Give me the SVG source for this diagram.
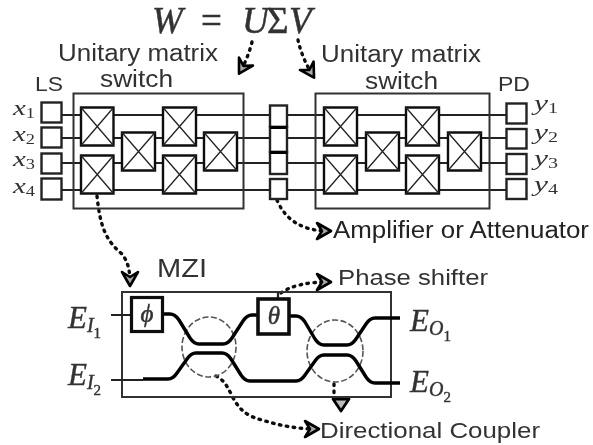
<svg xmlns="http://www.w3.org/2000/svg" width="593" height="445" viewBox="0 0 593 445">
<style>
.b{fill:#fff;stroke:#222;stroke-width:2.4}
.o{fill:none;stroke:#333;stroke-width:2}
.x{fill:#fff;stroke:#111;stroke-width:2.4}
.c{fill:none;stroke:#222;stroke-width:1.3}
.w{fill:none;stroke:#222;stroke-width:2.2}
.g{fill:none;stroke:#000;stroke-width:3.4;stroke-linejoin:round}
.d{fill:none;stroke:#111;stroke-width:3.4;stroke-dasharray:1.5 5.5;stroke-linecap:round}
.dc{fill:none;stroke:#555;stroke-width:1.6;stroke-dasharray:6 2.5}
.s{font-family:"Liberation Sans",Arial,sans-serif;fill:#333}
.m{font-family:"Liberation Serif","Times New Roman",serif;font-style:italic;fill:#333}
</style>
<defs>
<filter id="blur" x="-5%" y="-5%" width="110%" height="110%"><feGaussianBlur stdDeviation="0.7"/></filter>
<marker id="a" markerWidth="24" markerHeight="24" refX="14" refY="10" orient="auto" markerUnits="userSpaceOnUse"><path d="M2 2 L16 10 L2 18 L7 10 Z" fill="#aaa" stroke="#000" stroke-width="2.600" stroke-linejoin="round"/></marker>
</defs>
<g filter="url(#blur)">
<g id="connectors">
<path class="w" d="M62 115H506M62 138H506M62 163H506M62 190H506"/>
<path class="d" d="M252 42Q248 58 240 72" marker-end="url(#a)"/>
<path class="d" d="M298 40Q302 58 313 76" marker-end="url(#a)"/>
<path class="d" d="M97 196C100 225 105 240 122 254C128 262 130 270 130 284" marker-end="url(#a)"/>
<path class="d" d="M277 200Q290 231 329 231" marker-end="url(#a)"/>
<path class="d" d="M281 293Q296 282 329 282" marker-end="url(#a)"/>
<path class="d" d="M216 376C235 385 228 412 262 420Q290 429 317 429" marker-end="url(#a)"/>
<path class="d" d="M334 384V396"/>
<path d="M333 399H349L341 411Z" fill="#bbb" stroke="#000" stroke-width="2.800" stroke-linejoin="round"/>
</g>
<g id="left-switch">
<rect class="o" x="73.500" y="93.500" width="170" height="115"/>
<g id="ls-boxes">
<rect class="b" x="41.500" y="102.500" width="20" height="20"/>
<rect class="b" x="41.500" y="127.500" width="20" height="20"/>
<rect class="b" x="41.500" y="153.500" width="20" height="20"/>
<rect class="b" x="41.500" y="178.500" width="20" height="21"/>
</g>
<g id="left-crossbars">
<path class="x" d="M81 107.500h32.500v38h-32.500z"/><path class="c" d="M81 107.500l32.500 38m0-38l-32.500 38"/>
<path class="x" d="M122 132.500h33v38h-33z"/><path class="c" d="M122 132.500l33 38m0-38l-33 38"/>
<path class="x" d="M163 107.500h33v38h-33z"/><path class="c" d="M163 107.500l33 38m0-38l-33 38"/>
<path class="x" d="M204 132.500h33v38h-33z"/><path class="c" d="M204 132.500l33 38m0-38l-33 38"/>
<path class="x" d="M81 155.500h32.500v38h-32.500z"/><path class="c" d="M81 155.500l32.500 38m0-38l-32.500 38"/>
<path class="x" d="M163 155.500h33v38h-33z"/><path class="c" d="M163 155.500l33 38m0-38l-33 38"/>
</g>
</g>
<g id="middle-column">
<rect class="b" x="270" y="105.500" width="17" height="21.500"/>
<rect class="b" x="270" y="127" width="17" height="25"/>
<rect class="b" x="270" y="152" width="17" height="22"/>
<rect class="b" x="270" y="179" width="17" height="20"/>
<path d="M270 127.500H287M270 152.500H287" stroke="#000" stroke-width="3" fill="none"/>
</g>
<g id="right-switch">
<rect class="o" x="315.500" y="93.500" width="174" height="115"/>
<g id="right-crossbars">
<path class="x" d="M324 107.500h33v38h-33z"/><path class="c" d="M324 107.500l33 38m0-38l-33 38"/>
<path class="x" d="M366 132.500h33v38h-33z"/><path class="c" d="M366 132.500l33 38m0-38l-33 38"/>
<path class="x" d="M406 107.500h33v38h-33z"/><path class="c" d="M406 107.500l33 38m0-38l-33 38"/>
<path class="x" d="M448 132.500h33v38h-33z"/><path class="c" d="M448 132.500l33 38m0-38l-33 38"/>
<path class="x" d="M324 155.500h33v38h-33z"/><path class="c" d="M324 155.500l33 38m0-38l-33 38"/>
<path class="x" d="M406 155.500h33v38h-33z"/><path class="c" d="M406 155.500l33 38m0-38l-33 38"/>
</g>
<g id="pd-boxes">
<rect class="b" x="506.500" y="103.500" width="20" height="20"/>
<rect class="b" x="506.500" y="129" width="20" height="19.500"/>
<rect class="b" x="506.500" y="154" width="20" height="20"/>
<rect class="b" x="506.500" y="179" width="20" height="20"/>
</g>
</g>
<g id="mzi">
<rect class="o" x="122" y="292" width="269" height="105"/>
<ellipse class="dc" cx="209" cy="347" rx="27" ry="30"/>
<ellipse class="dc" cx="335" cy="351" rx="28" ry="31"/>
<path class="w" d="M111 315H131M111 380H143M278 292V298"/>
<path class="g" d="M162 314H170Q175 314 179 320L190 338Q194 344 199 344H223Q228 344 232 338L243 321Q247 315 252 315H258"/>
<path class="g" d="M289 316H296Q301 316 305 322L315 339Q319 345 324 345H347Q352 345 356 339L366 324Q370 318 375 318H400"/>
<path class="g" d="M143 379H168Q173 379 177 373L187 359Q191 353 196 353H222Q227 353 231 359L241 375Q245 381 250 381H296Q301 381 305 375L315 361Q319 355 324 355H347Q352 355 356 361L366 377Q370 383 375 383H400"/>
<rect id="phi-box" x="131.500" y="297.500" width="31" height="34" fill="#fff" stroke="#111" stroke-width="3.200"/>
<rect id="theta-box" x="258" y="299" width="31" height="35" fill="#fff" stroke="#111" stroke-width="3.600"/>
</g>
<g id="labels">
<text class="m" y="33" font-size="37" stroke="#333" stroke-width="0.5"><tspan x="152">W</tspan><tspan x="201" font-style="normal">=</tspan><tspan x="242">U</tspan><tspan x="267" font-style="normal">Σ</tspan><tspan x="289">V</tspan></text>
<text class="s" x="58" y="61" font-size="23" textLength="160" lengthAdjust="spacingAndGlyphs">Unitary matrix</text>
<text class="s" x="100" y="87" font-size="23" textLength="73" lengthAdjust="spacingAndGlyphs">switch</text>
<text class="s" x="321" y="62" font-size="23" textLength="160" lengthAdjust="spacingAndGlyphs">Unitary matrix</text>
<text class="s" x="365" y="89" font-size="23" textLength="73" lengthAdjust="spacingAndGlyphs">switch</text>
<text class="s" x="35" y="91" font-size="20" textLength="28" lengthAdjust="spacingAndGlyphs">LS</text>
<text class="s" x="498" y="91" font-size="20" textLength="32" lengthAdjust="spacingAndGlyphs">PD</text>
<text class="m" x="13" y="115" font-size="22" textLength="22" lengthAdjust="spacingAndGlyphs">x<tspan dy="3" font-size="14" font-style="normal">1</tspan></text>
<text class="m" x="13" y="141" font-size="22" textLength="22" lengthAdjust="spacingAndGlyphs">x<tspan dy="3" font-size="14" font-style="normal">2</tspan></text>
<text class="m" x="13" y="166" font-size="22" textLength="22" lengthAdjust="spacingAndGlyphs">x<tspan dy="3" font-size="14" font-style="normal">3</tspan></text>
<text class="m" x="13" y="193" font-size="22" textLength="22" lengthAdjust="spacingAndGlyphs">x<tspan dy="3" font-size="14" font-style="normal">4</tspan></text>
<text class="m" x="534" y="110" font-size="22" textLength="24" lengthAdjust="spacingAndGlyphs">y<tspan dy="3" font-size="14" font-style="normal">1</tspan></text>
<text class="m" x="534" y="139" font-size="22" textLength="24" lengthAdjust="spacingAndGlyphs">y<tspan dy="3" font-size="14" font-style="normal">2</tspan></text>
<text class="m" x="534" y="165" font-size="22" textLength="24" lengthAdjust="spacingAndGlyphs">y<tspan dy="3" font-size="14" font-style="normal">3</tspan></text>
<text class="m" x="534" y="191" font-size="22" textLength="24" lengthAdjust="spacingAndGlyphs">y<tspan dy="3" font-size="14" font-style="normal">4</tspan></text>
<text class="s" x="333" y="238" font-size="23" textLength="256" lengthAdjust="spacingAndGlyphs" style="fill:#222">Amplifier or Attenuator</text>
<text class="s" x="157" y="277" font-size="25" textLength="50" lengthAdjust="spacingAndGlyphs">MZI</text>
<text class="s" x="338" y="285" font-size="22" textLength="150" lengthAdjust="spacingAndGlyphs">Phase shifter</text>
<text class="s" x="320" y="438" font-size="22" textLength="220" lengthAdjust="spacingAndGlyphs">Directional Coupler</text>
<text class="m" x="147" y="322" font-size="25" text-anchor="middle" stroke="#333" stroke-width="0.5">ϕ</text>
<text class="m" x="274" y="324" font-size="25" text-anchor="middle" stroke="#333" stroke-width="0.5">θ</text>
<text class="m" x="68" y="328" font-size="31" stroke="#333" stroke-width="0.4">E<tspan dy="4" font-size="20">I</tspan><tspan dy="6" font-size="15" font-style="normal">1</tspan></text>
<text class="m" x="68" y="385" font-size="31" stroke="#333" stroke-width="0.4">E<tspan dy="4" font-size="20">I</tspan><tspan dy="6" font-size="15" font-style="normal">2</tspan></text>
<text class="m" x="410" y="331" font-size="31" stroke="#333" stroke-width="0.4">E<tspan dy="4" font-size="20">O</tspan><tspan dy="6" font-size="15" font-style="normal">1</tspan></text>
<text class="m" x="410" y="392" font-size="31" stroke="#333" stroke-width="0.4">E<tspan dy="4" font-size="20">O</tspan><tspan dy="6" font-size="15" font-style="normal">2</tspan></text>
</g>
</g>
</svg>
